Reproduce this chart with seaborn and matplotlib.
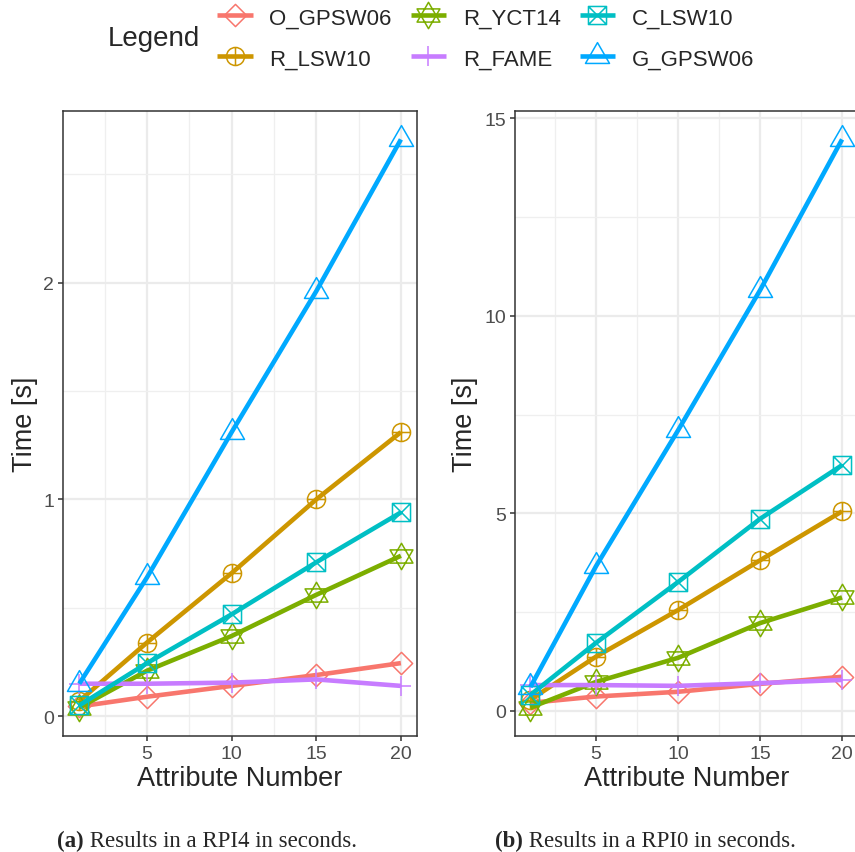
import pandas as pd
import matplotlib.pyplot as plt
import seaborn as sns
from matplotlib.path import Path
from matplotlib.ticker import MultipleLocator

attributes = [1, 5, 10, 15, 20]
series = ["O_GPSW06", "R_LSW10", "R_YCT14", "R_FAME", "C_LSW10", "G_GPSW06"]
colors = ["#F8766D", "#CD9600", "#7CAE00", "#C77CFF", "#00BFC4", "#00A9FF"]

# (a) RPI4, seconds
rpi4_o_gpsw06 = [0.045, 0.09, 0.14, 0.19, 0.245]
rpi4_r_lsw10 = [0.07, 0.34, 0.66, 1.0, 1.31]
rpi4_r_yct14 = [0.04, 0.21, 0.37, 0.56, 0.74]
rpi4_r_fame = [0.15, 0.15, 0.155, 0.17, 0.14]
rpi4_c_lsw10 = [0.05, 0.245, 0.47, 0.71, 0.94]
rpi4_g_gpsw06 = [0.15, 0.64, 1.31, 1.96, 2.66]

# (b) RPI0, seconds
rpi0_o_gpsw06 = [0.2, 0.36, 0.48, 0.68, 0.86]
rpi0_r_lsw10 = [0.28, 1.37, 2.55, 3.81, 5.05]
rpi0_r_yct14 = [0.08, 0.73, 1.34, 2.22, 2.87]
rpi0_r_fame = [0.65, 0.65, 0.63, 0.7, 0.78]
rpi0_c_lsw10 = [0.4, 1.72, 3.26, 4.86, 6.22]
rpi0_g_gpsw06 = [0.6, 3.66, 7.1, 10.65, 14.47]

captions = ["Results in a RPI4 in seconds.", "Results in a RPI0 in seconds."]
caption_tags = ["(a)", "(b)"]


def long_table(values):
    rows = []
    for name, ys in zip(series, values):
        for x, y in zip(attributes, ys):
            rows.append({"attr": x, "time": y, "series": name})
    return pd.DataFrame(rows)


rpi4 = long_table([rpi4_o_gpsw06, rpi4_r_lsw10, rpi4_r_yct14,
                   rpi4_r_fame, rpi4_c_lsw10, rpi4_g_gpsw06])
rpi0 = long_table([rpi0_o_gpsw06, rpi0_r_lsw10, rpi0_r_yct14,
                   rpi0_r_fame, rpi0_c_lsw10, rpi0_g_gpsw06])

# ggplot-like hollow shapes
M, L, C = Path.MOVETO, Path.LINETO, Path.CLOSEPOLY
diamond = Path([(0, 1), (1, 0), (0, -1), (-1, 0), (0, 1)], [M, L, L, L, C])
circle_plus = Path.make_compound_path(
    Path.unit_circle(),
    Path([(-1, 0), (1, 0), (0, -1), (0, 1)], [M, L, M, L]))
star = Path([(0, 1), (-0.866, -0.5), (0.866, -0.5), (0, 1),
             (0, -1), (-0.866, 0.5), (0.866, 0.5), (0, -1)],
            [M, L, L, C, M, L, L, C])
plus = Path([(-1, 0), (1, 0), (0, -1), (0, 1)], [M, L, M, L])
square_x = Path([(-1, -1), (1, -1), (1, 1), (-1, 1), (-1, -1),
                 (-1, -1), (1, 1), (-1, 1), (1, -1)],
                [M, L, L, L, C, M, L, M, L])
triangle = Path([(0, 1), (-0.866, -0.5), (0.866, -0.5), (0, 1)], [M, L, L, C])
markers = dict(zip(series, [diamond, circle_plus, star, plus, square_x, triangle]))
msizes = dict(zip(series, [16, 13, 19, 15, 13, 20]))

sns.set_style("ticks")
plt.rcParams["font.family"] = ["Liberation Sans", "DejaVu Sans"]

fig = plt.figure(figsize=(8.55, 8.53), dpi=100)
ax_a = fig.add_axes([0.0739, 0.136, 0.4138, 0.7327])
ax_b = fig.add_axes([0.6021, 0.136, 0.401, 0.7327])

for ax, df, major in [(ax_a, rpi4, 1), (ax_b, rpi0, 5)]:
    sns.lineplot(data=df, x="attr", y="time", hue="series", style="series",
                 hue_order=series, style_order=series, palette=colors,
                 markers=markers, dashes=False, errorbar=None, sort=False,
                 lw=3.3, mew=1.1, markerfacecolor="none", legend=False, ax=ax)
    for line, name in zip(ax.lines, series):
        line.set_markeredgecolor(line.get_color())
        line.set_markersize(msizes[name])
        line.set_solid_capstyle("butt")
    lo, hi = df["time"].min(), df["time"].max()
    pad = (hi - lo) * 0.05
    ax.set_ylim(lo - pad, hi + pad)
    ax.set_xlim(1 - 0.95, 20 + 0.95)
    ax.xaxis.set_major_locator(MultipleLocator(5))
    ax.xaxis.set_minor_locator(MultipleLocator(2.5))
    ax.yaxis.set_major_locator(MultipleLocator(major))
    ax.yaxis.set_minor_locator(MultipleLocator(major / 2))
    ax.grid(which="major", color="#EBEBEB", lw=1.6)
    ax.grid(which="minor", color="#EFEFEF", lw=0.9)
    ax.set_axisbelow(True)
    for sp in ax.spines.values():
        sp.set_color("#333333")
        sp.set_linewidth(1.1)
    ax.tick_params(which="major", length=3.5, width=1.1, color="#333333",
                   labelcolor="#4D4D4D", labelsize=14, pad=3)
    ax.tick_params(which="minor", length=0)
    ax.set_xlabel("Attribute Number", fontsize=19.5, labelpad=2)
    ax.set_ylabel("Time [s]", fontsize=19.5, labelpad=4)

# shared legend on top
fig.text(0.18, 0.954, "Legend", fontsize=20, ha="center", va="center")
fig.legend(ax_a.lines[:len(series)], series,
           loc="center left", bbox_to_anchor=(0.241, 0.954), ncol=3,
           frameon=False, fontsize=16, borderpad=0, handlelength=1.6,
           handletextpad=0.75, columnspacing=0.85, labelspacing=0.9)

# captions below the panels
for x0, tag, text in zip([0.0667, 0.579], caption_tags, captions):
    t = fig.text(x0, 0.0015, tag, fontsize=16.5, fontweight="bold",
                 family="Liberation Serif", ha="left", va="bottom")
    ax_a.annotate(" " + text, xy=(1, 0), xycoords=t, fontsize=16.5,
                  family="Liberation Serif", ha="left", va="bottom",
                  annotation_clip=False)

fig.savefig("out.png", dpi=100)
